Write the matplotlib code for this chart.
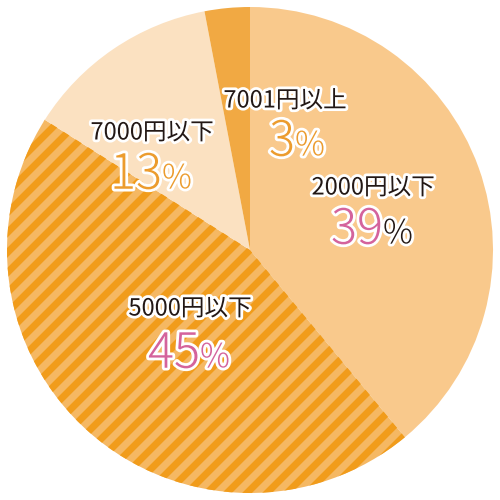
import numpy as np
import matplotlib.pyplot as plt
import matplotlib.patheffects as pe

plt.rcParams['font.family'] = ['Noto Sans CJK JP', 'DejaVu Sans']

labels = ["2000円以下", "5000円以下", "7000円以下", "7001円以上"]
shares = [39, 45, 13, 3]
colors = ["#f9c98c", "#f5b863", "#fbe1c1", "#f1a943"]
num_colors = ["#d4639c", "#d4639c", "#ec9c2e", "#ec9c2e"]
pct_colors = ["#231815", "#d4639c", "#ec9c2e", "#ec9c2e"]

# hand placed text centres (x, y of caption / y of number), image pixels from top
label_xy = [(373, 188, 230), (190, 309, 354), (152, 133, 175), (285, 101, 142)]

CX, CY, R = 250, 250, 243

fig = plt.figure(figsize=(5, 5), dpi=100)
ax = fig.add_axes([0, 0, 1, 1])

wedges, _ = ax.pie(shares, colors=colors, startangle=90, counterclock=False,
                   radius=R, center=(CX, CY), frame=True,
                   wedgeprops=dict(linewidth=0))
ax.set_xlim(0, 500)
ax.set_ylim(0, 500)
ax.set_aspect("equal")
ax.axis("off")

# stripes on the 45% slice
stripe = wedges[1]
period = 20
for off in np.arange(-600, 600, period):
    ln, = ax.plot([off - 100, off + 600], [-100, 600], color="#f19c1b",
                  linewidth=5, solid_capstyle="butt", zorder=3)
    ln.set_clip_path(stripe)

stroke = [pe.withStroke(linewidth=4, foreground="white")]
for lab, (x, ly, ny), nc, pc, v in zip(labels, label_xy, num_colors, pct_colors, shares):
    ax.text(x, 500 - ly, lab, fontsize=17, color="#231815", ha="center", va="center",
            path_effects=stroke, zorder=5)
    ax.text(x + 10, 500 - ny, str(v), fontsize=35, color=nc, ha="right", va="center",
            fontweight="light", path_effects=stroke, zorder=5)
    ax.text(x + 10, 500 - ny - 4, "%", fontsize=24, color=pc, ha="left", va="center",
            fontweight="light", path_effects=stroke, zorder=5)

fig.savefig("out.png", dpi=100)
